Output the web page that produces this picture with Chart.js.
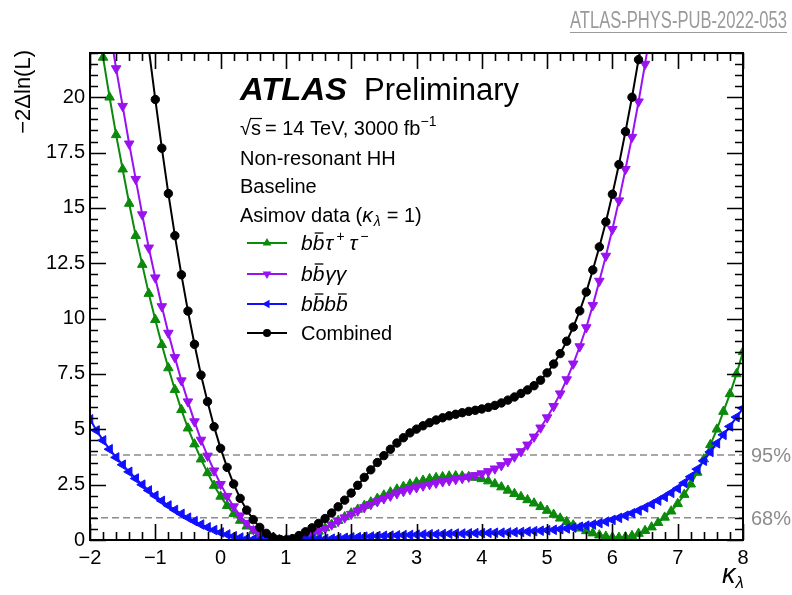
<!DOCTYPE html>
<html>
<head>
<meta charset="utf-8">
<script src="https://cdn.jsdelivr.net/npm/chart.js@4.4.1/dist/chart.umd.min.js"></script>
<style>
  html, body { margin: 0; padding: 0; background: #fff; }
  #wrap { position: relative; width: 792px; height: 595px; }
</style>
</head>
<body>
<div id="wrap"><canvas id="nll"></canvas></div>
<script>
// kappa_lambda scan points
const KAPPA = [
  -2, -1.9, -1.8, -1.7, -1.6, -1.5, -1.4, -1.3, -1.2, -1.1,
  -1, -0.9, -0.8, -0.7, -0.6, -0.5, -0.4, -0.3, -0.2, -0.1,
  0, 0.1, 0.2, 0.3, 0.4, 0.5, 0.6, 0.7, 0.8, 0.9,
  1, 1.1, 1.2, 1.3, 1.4, 1.5, 1.6, 1.7, 1.8, 1.9,
  2, 2.1, 2.2, 2.3, 2.4, 2.5, 2.6, 2.7, 2.8, 2.9,
  3, 3.1, 3.2, 3.3, 3.4, 3.5, 3.6, 3.7, 3.8, 3.9,
  4, 4.1, 4.2, 4.3, 4.4, 4.5, 4.6, 4.7, 4.8, 4.9,
  5, 5.1, 5.2, 5.3, 5.4, 5.5, 5.6, 5.7, 5.8, 5.9,
  6, 6.1, 6.2, 6.3, 6.4, 6.5, 6.6, 6.7, 6.8, 6.9,
  7, 7.1, 7.2, 7.3, 7.4, 7.5, 7.6, 7.7, 7.8, 7.9,
  8
]

// -2 Delta ln(L) per channel
const NLL_BBTT = [
  null, 23.7, 21.8, 20.0, 18.3, 16.75, 15.2, 13.75, 12.44, 11.13,
  9.95, 8.82, 7.77, 6.79, 5.88, 5.05, 4.33, 3.65, 3.03, 2.46,
  1.97, 1.55, 1.19, 0.88, 0.62, 0.41, 0.25, 0.13, 0.05, 0.01,
  0, 0.02, 0.07, 0.15, 0.26, 0.39, 0.54, 0.7, 0.87, 1.04,
  1.21, 1.38, 1.55, 1.71, 1.87, 2.02, 2.16, 2.29, 2.41, 2.52,
  2.61, 2.69, 2.76, 2.81, 2.85, 2.88, 2.89, 2.88, 2.86, 2.82,
  2.76, 2.66, 2.53, 2.39, 2.24, 2.09, 1.95, 1.81, 1.66, 1.5,
  1.33, 1.15, 0.98, 0.82, 0.67, 0.53, 0.41, 0.31, 0.22, 0.16,
  0.12, 0.11, 0.13, 0.19, 0.29, 0.42, 0.58, 0.78, 1.02, 1.3,
  1.64, 2.05, 2.52, 3.05, 3.65, 4.3, 5.0, 5.8, 6.6, 7.5,
  8.5
]

const NLL_BBYY = [
  null, null, null, 23.1, 21.3, 19.6, 17.9, 16.3, 14.7, 13.2,
  11.85, 10.55, 9.35, 8.25, 7.2, 6.25, 5.35, 4.52, 3.8, 3.13,
  2.52, 1.98, 1.51, 1.1, 0.76, 0.48, 0.27, 0.12, 0.04, 0.01,
  0, 0.02, 0.07, 0.15, 0.26, 0.39, 0.53, 0.69, 0.85, 1.01,
  1.17, 1.32, 1.47, 1.61, 1.74, 1.87, 1.99, 2.1, 2.2, 2.29,
  2.37, 2.45, 2.52, 2.58, 2.64, 2.69, 2.74, 2.79, 2.85, 2.92,
  3.0, 3.1, 3.22, 3.37, 3.55, 3.76, 4.0, 4.3, 4.66, 5.07,
  5.53, 6.04, 6.61, 7.25, 7.96, 8.74, 9.6, 10.6, 11.7, 12.83,
  14.04, 15.33, 16.75, 18.2, 19.8, 21.5, 23.3, null, null, null,
  null, null, null, null, null, null, null, null, null, null,
  null
]

const NLL_BBBB = [
  5.45, 4.95, 4.5, 4.1, 3.73, 3.4, 3.08, 2.78, 2.5, 2.24,
  2.0, 1.77, 1.56, 1.36, 1.18, 1.01, 0.85, 0.7, 0.57, 0.45,
  0.34, 0.25, 0.17, 0.11, 0.06, 0.03, 0.01, 0, 0, 0,
  0, 0, 0.01, 0.02, 0.03, 0.04, 0.05, 0.06, 0.08, 0.1,
  0.12, 0.13, 0.15, 0.16, 0.18, 0.19, 0.2, 0.21, 0.22, 0.23,
  0.24, 0.25, 0.26, 0.26, 0.27, 0.28, 0.29, 0.29, 0.3, 0.31,
  0.31, 0.32, 0.33, 0.33, 0.34, 0.35, 0.36, 0.38, 0.4, 0.42,
  0.44, 0.46, 0.49, 0.52, 0.56, 0.6, 0.65, 0.7, 0.76, 0.83,
  0.91, 1.0, 1.1, 1.21, 1.33, 1.47, 1.62, 1.78, 1.95, 2.13,
  2.33, 2.58, 2.86, 3.2, 3.58, 3.98, 4.37, 4.75, 5.13, 5.55,
  5.95
]

const NLL_COMB = [
  null, null, null, null, null, null, null, null, null, 22.2,
  19.9, 17.7, 15.65, 13.75, 11.98, 10.34, 8.84, 7.45, 6.25, 5.12,
  4.14, 3.28, 2.53, 1.88, 1.35, 0.92, 0.57, 0.3, 0.12, 0.03,
  0, 0.06, 0.2, 0.37, 0.55, 0.75, 0.97, 1.22, 1.5, 1.8,
  2.12, 2.47, 2.83, 3.17, 3.5, 3.81, 4.1, 4.38, 4.62, 4.84,
  5.01, 5.16, 5.3, 5.42, 5.52, 5.61, 5.68, 5.75, 5.81, 5.86,
  5.92, 5.99, 6.08, 6.19, 6.32, 6.46, 6.62, 6.78, 6.97, 7.22,
  7.55, 7.95, 8.42, 8.98, 9.62, 10.35, 11.2, 12.2, 13.24, 14.37,
  15.62, 16.96, 18.45, 20.0, 21.7, 23.5, null, null, null, null,
  null, null, null, null, null, null, null, null, null, null,
  null
]

// confidence level thresholds
const CL_LEVELS = [1.0, 3.84]
const CL_LABELS = ['68%', '95%']

const X_RANGE = [-2, 8]
const Y_RANGE = [0, 22]

const FONT = '"Liberation Sans", Arial, Helvetica, sans-serif'
const GREEN = '#0b8a0b'
const PURPLE = '#9a12f0'
const BLUE = '#1010ff'
const BLACK = '#000000'

const toPoints = (values) => KAPPA.map((k, i) => ({ x: k, y: values[i] }))

const series = [
  { key: 'bbtt', data: NLL_BBTT, color: GREEN, style: 'triangle', rotation: 0, radius: 5.5, order: 3 },
  { key: 'bbyy', data: NLL_BBYY, color: PURPLE, style: 'triangle', rotation: 180, radius: 5.5, order: 2 },
  { key: 'bbbb', data: NLL_BBBB, color: BLUE, style: 'triangle', rotation: 270, radius: 5.5, order: 1 },
  { key: 'comb', data: NLL_COMB, color: BLACK, style: 'circle', rotation: 0, radius: 4.2, order: 0 },
]

const datasets = series.map((s) => ({
  label: s.key,
  data: toPoints(s.data),
  borderColor: s.color,
  backgroundColor: s.color,
  borderWidth: 2,
  pointStyle: s.style,
  rotation: s.rotation,
  pointRadius: s.radius,
  pointBorderWidth: 1,
  pointBackgroundColor: s.color,
  pointBorderColor: s.color,
  tension: 0,
  spanGaps: false,
  order: s.order,
}))

CL_LEVELS.forEach((level) => {
  datasets.push({
    label: 'cl',
    data: [{ x: X_RANGE[0], y: level }, { x: X_RANGE[1], y: level }],
    borderColor: '#8c8c8c',
    borderWidth: 1.5,
    borderDash: [7, 4],
    pointRadius: 0,
    order: 10,
  })
})

// small marker painter for the legend
function drawMarker(ctx, style, rotation, x, y, r, color) {
  ctx.save()
  ctx.fillStyle = color
  ctx.beginPath()
  if (style === 'circle') {
    ctx.arc(x, y, r, 0, Math.PI * 2)
  } else {
    let rad = rotation * Math.PI / 180
    for (let i = 0; i < 3; i++) {
      const px = x + Math.sin(rad) * r
      const py = y - Math.cos(rad) * r
      i === 0 ? ctx.moveTo(px, py) : ctx.lineTo(px, py)
      rad += Math.PI * 2 / 3
    }
    ctx.closePath()
  }
  ctx.fill()
  ctx.restore()
}

// draws a run of text pieces; each piece may be raised, lowered or barred
function drawRuns(ctx, x, y, runs) {
  let cx = x
  runs.forEach((r) => {
    ctx.font = r.font
    const w = ctx.measureText(r.t).width
    ctx.fillText(r.t, cx, y + (r.dy || 0))
    if (r.bar) {
      ctx.save()
      ctx.lineWidth = 1.3
      ctx.beginPath()
      ctx.moveTo(cx + r.bar[0], y + r.bar[2])
      ctx.lineTo(cx + w + r.bar[1], y + r.bar[2])
      ctx.stroke()
      ctx.restore()
    }
    cx += w + (r.gap || 0)
  })
  return cx
}

const frameTicks = {
  id: 'frameTicks',
  afterDatasetsDraw(chart) {
    const { ctx, chartArea: a, scales: { x, y } } = chart
    ctx.save()
    ctx.strokeStyle = '#000'
    ctx.lineWidth = 1.6
    ctx.beginPath()
    for (let i = 0; i <= 50; i++) {
      const v = X_RANGE[0] + i * 0.2
      const px = Math.round(x.getPixelForValue(v)) + 0.5
      const len = i % 5 === 0 ? 16 : 8
      ctx.moveTo(px, a.bottom); ctx.lineTo(px, a.bottom - len)
      ctx.moveTo(px, a.top); ctx.lineTo(px, a.top + len)
    }
    for (let i = 0; i <= 44; i++) {
      const v = i * 0.5
      const py = Math.round(y.getPixelForValue(v)) + 0.5
      const len = i % 5 === 0 ? 16 : 8
      ctx.moveTo(a.left, py); ctx.lineTo(a.left + len, py)
      ctx.moveTo(a.right, py); ctx.lineTo(a.right - len, py)
    }
    ctx.stroke()
    ctx.lineWidth = 2
    ctx.strokeRect(a.left, a.top, a.right - a.left, a.bottom - a.top)
    ctx.restore()
  },
}

const annotations = {
  id: 'annotations',
  afterDraw(chart) {
    const { ctx, chartArea: a, scales: { y } } = chart
    ctx.save()
    ctx.fillStyle = '#000'
    ctx.strokeStyle = '#000'
    ctx.textBaseline = 'alphabetic'
    ctx.textAlign = 'left'

    // experiment label, stretched to the usual ATLAS width
    ctx.font = `italic bold 31px ${FONT}`
    const atlasW = ctx.measureText('ATLAS').width
    ctx.save()
    ctx.translate(240, 100)
    ctx.scale(107 / atlasW, 1)
    ctx.fillText('ATLAS', 0, 0)
    ctx.restore()
    ctx.font = `31px ${FONT}`
    ctx.fillText('Preliminary', 364, 100)

    const f20 = `20px ${FONT}`
    const f14 = `14px ${FONT}`
    const i21 = `italic 21px ${FONT}`
    const i14 = `italic 14px ${FONT}`

    // sqrt(s) line
    ctx.font = f20
    const rootW = ctx.measureText('\u221A').width
    ctx.fillText('\u221A', 240, 135)
    const sW = ctx.measureText('s').width
    ctx.fillText('s', 240 + rootW, 135)
    ctx.save()
    ctx.lineWidth = 1.2
    ctx.beginPath()
    ctx.moveTo(240 + rootW - 1, 118.5)
    ctx.lineTo(240 + rootW + sW + 1, 118.5)
    ctx.stroke()
    ctx.restore()
    drawRuns(ctx, 240 + rootW + sW + 4, 135, [
      { t: '= 14 TeV, 3000 fb', font: f20 },
      { t: '\u22121', font: f14, dy: -9 },
    ])

    ctx.font = f20
    ctx.fillText('Non-resonant HH', 240, 164.5)
    ctx.fillText('Baseline', 240, 193)
    drawRuns(ctx, 240, 222, [
      { t: 'Asimov data (', font: f20 },
      { t: '\u03BA', font: i21, gap: 1 },
      { t: '\u03BB', font: i14, dy: 4, gap: 6 },
      { t: '= 1)', font: f20 },
    ])

    // legend
    const rows = [243, 274, 304, 333]
    series.forEach((s, i) => {
      const ly = rows[i]
      ctx.save()
      ctx.strokeStyle = s.color
      ctx.lineWidth = 2
      ctx.beginPath()
      ctx.moveTo(247, ly); ctx.lineTo(287, ly)
      ctx.stroke()
      ctx.restore()
      drawMarker(ctx, s.style, s.rotation, 267, ly, s.style === 'circle' ? 4 : 5, s.color)
    })
    const tx = 301
    const bar = [2, -1, -17]
    drawRuns(ctx, tx, rows[0] + 7, [
      { t: 'b', font: i21 },
      { t: 'b', font: i21, bar, gap: 1 },
      { t: '\u03C4', font: i21, gap: 3 },
      { t: '+', font: i14, dy: -9, gap: 5 },
      { t: '\u03C4', font: i21, gap: 3 },
      { t: '\u2212', font: i14, dy: -9 },
    ])
    drawRuns(ctx, tx, rows[1] + 7, [
      { t: 'b', font: i21 },
      { t: 'b', font: i21, bar, gap: 1 },
      { t: '\u03B3\u03B3', font: i21 },
    ])
    drawRuns(ctx, tx, rows[2] + 7, [
      { t: 'b', font: i21 },
      { t: 'b', font: i21, bar },
      { t: 'b', font: i21 },
      { t: 'b', font: i21, bar },
    ])
    ctx.font = f20
    ctx.fillText('Combined', tx, rows[3] + 7)

    // CL labels on the right edge
    ctx.fillStyle = '#8c8c8c'
    ctx.font = `20px ${FONT}`
    CL_LEVELS.forEach((level, i) => {
      ctx.fillText(CL_LABELS[i], a.right + 8, y.getPixelForValue(level) + 7)
    })

    // axis titles
    ctx.fillStyle = '#000'
    drawRuns(ctx, 722, 583, [
      { t: '\u03BA', font: `italic 27px ${FONT}` },
      { t: '\u03BB', font: `italic 17px ${FONT}`, dy: 5 },
    ])
    ctx.save()
    ctx.translate(30, 50)
    ctx.rotate(-Math.PI / 2)
    ctx.textAlign = 'right'
    ctx.font = `22px ${FONT}`
    ctx.fillText('\u22122\u0394ln(L)', 0, 0)
    ctx.restore()

    // publication reference
    ctx.fillStyle = '#9a9a9a'
    ctx.strokeStyle = '#9a9a9a'
    ctx.font = `23px ${FONT}`
    const ref = 'ATLAS-PHYS-PUB-2022-053'
    const refW = ctx.measureText(ref).width
    ctx.save()
    ctx.translate(570, 28)
    ctx.scale(217 / refW, 1)
    ctx.fillText(ref, 0, 0)
    ctx.restore()
    ctx.lineWidth = 1.2
    ctx.beginPath()
    ctx.moveTo(570, 32.5); ctx.lineTo(787, 32.5)
    ctx.stroke()

    ctx.restore()
  },
}

const tickFont = { family: FONT, size: 20 }

new Chart(document.getElementById('nll'), {
  type: 'line',
  data: { datasets },
  options: {
    responsive: true,
    maintainAspectRatio: false,
    animation: false,
    events: [],
    layout: { padding: { top: 53, right: 49, left: 0, bottom: 0 } },
    plugins: {
      legend: { display: false },
      tooltip: { enabled: false },
    },
    scales: {
      x: {
        type: 'linear',
        min: X_RANGE[0],
        max: X_RANGE[1],
        afterFit: (s) => { s.height = 55 },
        grid: { display: false, drawTicks: false },
        border: { display: false },
        ticks: {
          stepSize: 1,
          padding: 6,
          color: '#000',
          font: tickFont,
          maxRotation: 0,
          autoSkip: false,
          callback: (v) => String(v).replace('-', '\u2212'),
        },
      },
      y: {
        type: 'linear',
        min: Y_RANGE[0],
        max: Y_RANGE[1],
        afterFit: (s) => { s.width = 90 },
        grid: { display: false, drawTicks: false },
        border: { display: false },
        ticks: {
          stepSize: 2.5,
          includeBounds: false,
          padding: 5,
          color: '#000',
          font: tickFont,
          autoSkip: false,
          callback: (v) => String(v),
        },
      },
    },
  },
  plugins: [frameTicks, annotations],
})
</script>
</body>
</html>
